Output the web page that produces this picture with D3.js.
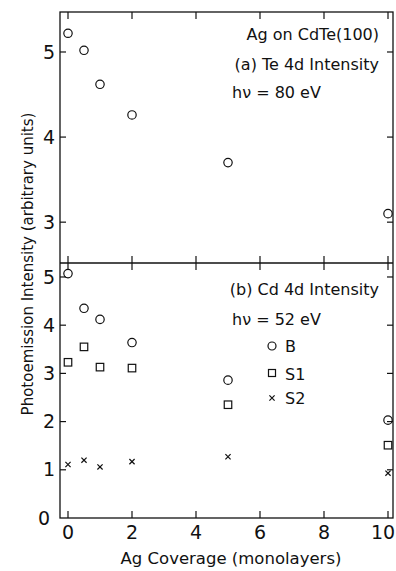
<!DOCTYPE html>
<html><head><meta charset="utf-8">
<script src="https://cdn.jsdelivr.net/npm/d3@7"></script>
<style>
html,body{margin:0;padding:0;background:#fff;}
svg text{font-family:"DejaVu Sans","Noto Sans",sans-serif;fill:#111;}
</style></head>
<body><svg id="c" width="396" height="571"></svg>
<script>
// Data
const coverage = [0, 0.5, 1, 2, 5, 10];
const te4d = [5.22, 5.02, 4.62, 4.26, 3.70, 3.10];
const cdB  = [5.07, 4.35, 4.12, 3.64, 2.86, 2.03];
const cdS1 = [3.23, 3.55, 3.13, 3.11, 2.35, 1.51];
const cdS2 = [1.11, 1.20, 1.06, 1.17, 1.27, 0.93];
const xTicks = [0, 2, 4, 6, 8, 10];
const yTicksTop = [3, 4, 5];
const yTicksBottom = [0, 1, 2, 3, 4, 5];

const svg = d3.select("#c");
const L = 60, R = 393, T = 12, M = 263, B = 518;
const x = d3.scaleLinear().domain([0, 10]).range([68, 388]);
const yTop = d3.scaleLinear().domain([2.52, 5.47]).range([M, T]);
const yBot = d3.scaleLinear().domain([0, 5.29]).range([B, M]);
const ink = "#111";
const sw = 1.2;

// frame
svg.append("rect").attr("x", L).attr("y", T).attr("width", R - L).attr("height", B - T)
  .attr("fill", "none").attr("stroke", ink).attr("stroke-width", 1.3);
svg.append("line").attr("x1", L).attr("x2", R).attr("y1", M).attr("y2", M)
  .attr("stroke", ink).attr("stroke-width", 1.3);

const tickG = svg.append("g").attr("stroke", ink).attr("stroke-width", sw);
function ticks(yScale, yt, top, bottom) {
  const yv = yt.filter(d => d > yScale.domain()[0]);
  tickG.append("g").selectAll("line").data(yv).join("line")
    .attr("x1", L).attr("x2", L + 6).attr("y1", d => yScale(d)).attr("y2", d => yScale(d));
  tickG.append("g").selectAll("line").data(yv).join("line")
    .attr("x1", R).attr("x2", R - 6).attr("y1", d => yScale(d)).attr("y2", d => yScale(d));
  tickG.append("g").selectAll("line").data(xTicks).join("line")
    .attr("x1", d => x(d)).attr("x2", d => x(d)).attr("y1", top).attr("y2", top + 7);
  tickG.append("g").selectAll("line").data(xTicks).join("line")
    .attr("x1", d => x(d)).attr("x2", d => x(d)).attr("y1", bottom).attr("y2", bottom - 7);
}
ticks(yTop, yTicksTop, T, M);
ticks(yBot, yTicksBottom, M, B);

// y tick labels
function yLabels(yScale, yt) {
  svg.append("g").selectAll("text").data(yt).join("text")
    .attr("x", d => d === 0 ? 50 : 55).attr("y", d => yScale(d)).attr("dy", "0.35em")
    .attr("text-anchor", "end").attr("font-size", 19).text(d => d);
}
yLabels(yTop, yTicksTop);
yLabels(yBot, yTicksBottom);

// x tick labels
svg.append("g").selectAll("text").data(xTicks).join("text")
  .attr("x", d => Math.min(x(d), 383)).attr("y", 539).attr("text-anchor", "middle")
  .attr("font-size", 19).text(d => d);

// axis titles
svg.append("text").attr("x", 231).attr("y", 564).attr("text-anchor", "middle")
  .attr("font-size", 16.5).text("Ag Coverage (monolayers)");
svg.append("text").attr("transform", "translate(33,264) rotate(-90)").attr("text-anchor", "middle")
  .attr("font-size", 15).text("Photoemission Intensity (arbitrary units)");

// markers
function circles(yScale, vals, r) {
  svg.append("g").selectAll("circle").data(vals).join("circle")
    .attr("cx", (d, i) => x(coverage[i])).attr("cy", d => yScale(d)).attr("r", r)
    .attr("fill", "none").attr("stroke", ink).attr("stroke-width", sw);
}
function squares(yScale, vals, s) {
  svg.append("g").selectAll("rect").data(vals).join("rect")
    .attr("x", (d, i) => x(coverage[i]) - s / 2).attr("y", d => yScale(d) - s / 2)
    .attr("width", s).attr("height", s)
    .attr("fill", "none").attr("stroke", ink).attr("stroke-width", sw);
}
function crosses(yScale, vals, s) {
  svg.append("g").selectAll("path").data(vals).join("path")
    .attr("d", (d, i) => { const cx = x(coverage[i]), cy = yScale(d);
      return `M${cx - s},${cy - s}L${cx + s},${cy + s}M${cx - s},${cy + s}L${cx + s},${cy - s}`; })
    .attr("stroke", ink).attr("stroke-width", sw);
}
circles(yTop, te4d, 4.2);
circles(yBot, cdB, 4.2);
squares(yBot, cdS1, 7.5);
crosses(yBot, cdS2, 2.6);

// annotations
const fs = 16;
svg.append("text").attr("x", 379).attr("y", 40).attr("text-anchor", "end").attr("font-size", fs).text("Ag on CdTe(100)");
svg.append("text").attr("x", 379).attr("y", 70).attr("text-anchor", "end").attr("font-size", fs).text("(a) Te 4d  Intensity");
svg.append("text").attr("x", 232).attr("y", 98).attr("font-size", fs).text("hν = 80 eV");
svg.append("text").attr("x", 379).attr("y", 295).attr("text-anchor", "end").attr("font-size", fs).text("(b) Cd 4d  Intensity");
svg.append("text").attr("x", 232).attr("y", 325).attr("font-size", fs).text("hν = 52 eV");

// legend
const lx = 272;
svg.append("circle").attr("cx", lx).attr("cy", 346).attr("r", 4).attr("fill", "none").attr("stroke", ink).attr("stroke-width", sw);
svg.append("text").attr("x", 285).attr("y", 352).attr("font-size", fs).text("B");
svg.append("rect").attr("x", lx - 3.5).attr("y", 373 - 3.5).attr("width", 7).attr("height", 7).attr("fill", "none").attr("stroke", ink).attr("stroke-width", sw);
svg.append("text").attr("x", 285).attr("y", 380).attr("font-size", fs).text("S1");
svg.append("path").attr("d", `M${lx-2.6},${398-2.6}L${lx+2.6},${398+2.6}M${lx-2.6},${398+2.6}L${lx+2.6},${398-2.6}`).attr("stroke", ink).attr("stroke-width", sw);
svg.append("text").attr("x", 285).attr("y", 404).attr("font-size", fs).text("S2");
</script></body></html>
